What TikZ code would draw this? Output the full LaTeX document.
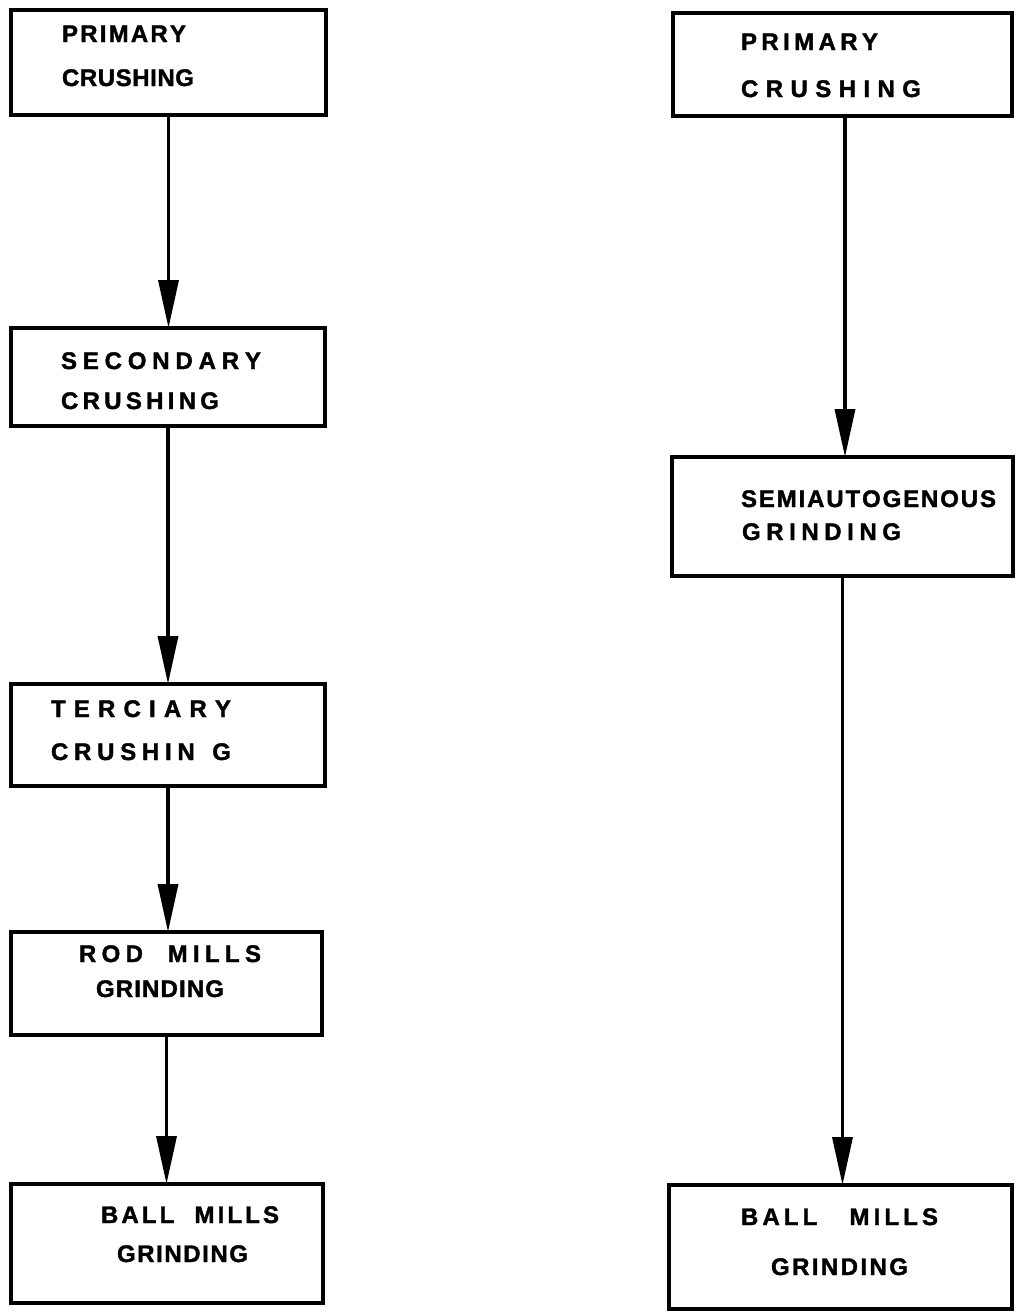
\documentclass[tikz,border=0pt]{standalone}
\usepackage{fontspec}
\setmainfont{Liberation Sans}
\newfontfamily\lblfont{Liberation Sans}[BoldFeatures={FakeBold=1.6}]
\usetikzlibrary{arrows.meta}
\makeatletter
\newcommand\spreadtxt[2]{\makebox[#1][s]{\@tfor\sp@it:=#2\do{\sp@it\hfil}\unskip}}
\makeatother
\tikzset{
  box/.style={draw=black, line width=3.8pt, rectangle, inner sep=0pt, outer sep=0pt},
  lbl/.style={anchor=base west, inner sep=0pt, outer sep=0pt, font=\lblfont\fontsize{24}{28}\selectfont\bfseries},
  flow/.style={draw=black, line width=3.5pt, -{Triangle[length=48pt,width=20pt]}}
}
\begin{document}
\begin{tikzpicture}[x=1pt,y=-1pt]
\useasboundingbox (0,0) rectangle (1016,1312);
% left column
\node[box, minimum width=315pt, minimum height=105pt] (L1) at (168.5,62.5) {};
\node[box, minimum width=314pt, minimum height=98pt]  (L2) at (168,377) {};
\node[box, minimum width=314pt, minimum height=102pt] (L3) at (168,735) {};
\node[box, minimum width=311pt, minimum height=103pt] (L4) at (166.5,983.5) {};
\node[box, minimum width=312pt, minimum height=119pt] (L5) at (167,1243.5) {};
% right column
\node[box, minimum width=339pt, minimum height=103pt] (R1) at (842.5,64.5) {};
\node[box, minimum width=341pt, minimum height=119pt] (R2) at (842.5,516.5) {};
\node[box, minimum width=343pt, minimum height=124pt] (R3) at (840.5,1247) {};
% labels left
\node[lbl] (L1a) at (62,42)  {\spreadtxt{124pt}{PRIMARY}};
\node[lbl] (L1b) at (62,86)  {\spreadtxt{132pt}{CRUSHING}};
\node[lbl] (L2a) at (61,369) {\spreadtxt{200pt}{SECONDARY}};
\node[lbl] (L2b) at (61,409) {\spreadtxt{158pt}{CRUSHING}};
\node[lbl] (L3a) at (51,717) {\spreadtxt{180pt}{TERCIARY}};
\node[lbl] (L3b) at (51,760) {\spreadtxt{180pt}{CRUSHIN{\hskip6pt}G}};
\node[lbl] (L4a) at (79,962) {\spreadtxt{182pt}{ROD{\hskip14pt}MILLS}};
\node[lbl] (L4b) at (96,997) {\spreadtxt{128pt}{GRINDING}};
\node[lbl] (L5a) at (101,1223) {\spreadtxt{178pt}{BALL{\hskip14pt}MILLS}};
\node[lbl] (L5b) at (117,1262) {\spreadtxt{131pt}{GRINDING}};
% labels right
\node[lbl] (R1a) at (741,50)  {\spreadtxt{137pt}{PRIMARY}};
\node[lbl] (R1b) at (741,97)  {\spreadtxt{180pt}{CRUSHING}};
\node[lbl] (R2a) at (741,507) {\spreadtxt{255pt}{SEMIAUTOGENOUS}};
\node[lbl] (R2b) at (742,540) {\spreadtxt{159pt}{GRINDING}};
\node[lbl] (R3a) at (741,1225) {\spreadtxt{197pt}{BALL{\hskip24pt}MILLS}};
\node[lbl] (R3b) at (771,1275) {\spreadtxt{137pt}{GRINDING}};
% arrows
\draw[flow] (L1.south) -- (L1.south |- L2.north);
\draw[flow] (L2.south) -- (L2.south |- L3.north);
\draw[flow] (L3.south) -- (L3.south |- L4.north);
\draw[flow] (L4.south) -- (L4.south |- L5.north);
\draw[flow] ([xshift=2.5pt]R1.south) -- ([xshift=2.5pt]R1.south |- R2.north);
\draw[flow] (R2.south) -- (R2.south |- R3.north);
\end{tikzpicture}
\end{document}
